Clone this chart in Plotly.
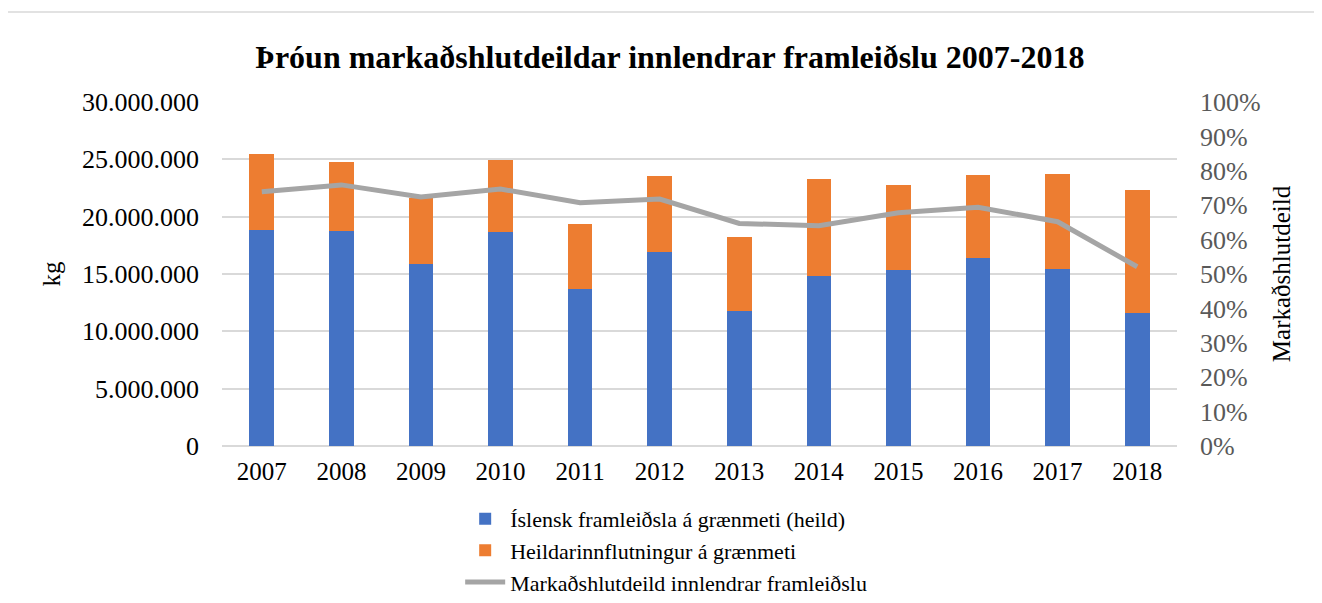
import plotly.graph_objects as go

years = ['2007', '2008', '2009', '2010', '2011', '2012',
         '2013', '2014', '2015', '2016', '2017', '2018']

# kg
innlent = [18810000, 18780000, 15850000, 18690000, 13670000, 16890000,
           11800000, 14850000, 15380000, 16420000, 15440000, 11630000]
innflutt = [6660000, 5990000, 5780000, 6280000, 5660000, 6660000,
            6430000, 8410000, 7410000, 7210000, 8280000, 10700000]
# share of domestic production
hlutdeild = [0.739, 0.759, 0.724, 0.747, 0.707, 0.718,
             0.647, 0.640, 0.678, 0.694, 0.652, 0.521]

left_ticks = [0, 5000000, 10000000, 15000000, 20000000, 25000000, 30000000]
left_labels = ['0', '5.000.000', '10.000.000', '15.000.000',
               '20.000.000', '25.000.000', '30.000.000']

serif = 'Liberation Serif, Times New Roman, serif'

fig = go.Figure()
fig.add_trace(go.Bar(x=years, y=innlent, name='Íslensk framleiðsla á grænmeti (heild)',
                     marker_color='#4472c4', marker_line_width=0))
fig.add_trace(go.Bar(x=years, y=innflutt, name='Heildarinnflutningur á grænmeti',
                     marker_color='#ed7d31', marker_line_width=0))
fig.add_trace(go.Scatter(x=years, y=hlutdeild, name='Markaðshlutdeild innlendrar framleiðslu',
                         mode='lines', yaxis='y2',
                         line=dict(color='#a5a5a5', width=5)))

# outer chart border (runs off the right/bottom of the picture)
fig.add_shape(type='rect', xref='paper', yref='paper',
              x0=-0.2251, x1=1.16, y0=-0.47, y1=1.2616,
              line=dict(color='#d9d9d9', width=1.5), fillcolor='rgba(0,0,0,0)')

# page body has an 8px margin, so the figure is shifted by 8px
fig.update_layout(
    width=1314, height=595,
    margin=dict(l=214, r=145, t=94, b=157, autoexpand=False),
    paper_bgcolor='white', plot_bgcolor='white',
    font=dict(family=serif, color='black', size=25),
    barmode='stack', bargap=0.69,
    title=dict(text='<b>Þróun markaðshlutdeildar innlendrar framleiðslu 2007-2018</b>',
               x=0.469, xref='paper', xanchor='center', y=0.918, yanchor='middle',
               font=dict(family=serif, size=32, color='black')),
    xaxis=dict(showgrid=False, showline=False, ticks='',
               tickfont=dict(size=25, color='black'), ticklabelstandoff=8),
    yaxis=dict(range=[0, 30000000], tickvals=left_ticks, ticktext=left_labels,
               showgrid=True, gridcolor='#d9d9d9', gridwidth=1.5,
               zeroline=True, zerolinecolor='#d9d9d9', zerolinewidth=1.5,
               tickfont=dict(size=26, color='black'), ticklabelstandoff=22,
               title=dict(text='kg', font=dict(size=25, color='black'), standoff=14)),
    yaxis2=dict(range=[0, 1], overlaying='y', side='right', dtick=0.1,
                tickformat='.0%', showgrid=False, zeroline=False,
                tickfont=dict(size=26, color='#595959'), ticklabelstandoff=22,
                title=dict(text='Markaðshlutdeild', font=dict(size=25, color='black'),
                           standoff=12)),
    legend=dict(orientation='v', traceorder='normal', x=0.2494, xanchor='left',
                y=-0.151, yanchor='top', font=dict(size=22, color='black'),
                bgcolor='rgba(0,0,0,0)', tracegroupgap=0, itemwidth=40),
    showlegend=True,
)

fig.write_html('out.html')
